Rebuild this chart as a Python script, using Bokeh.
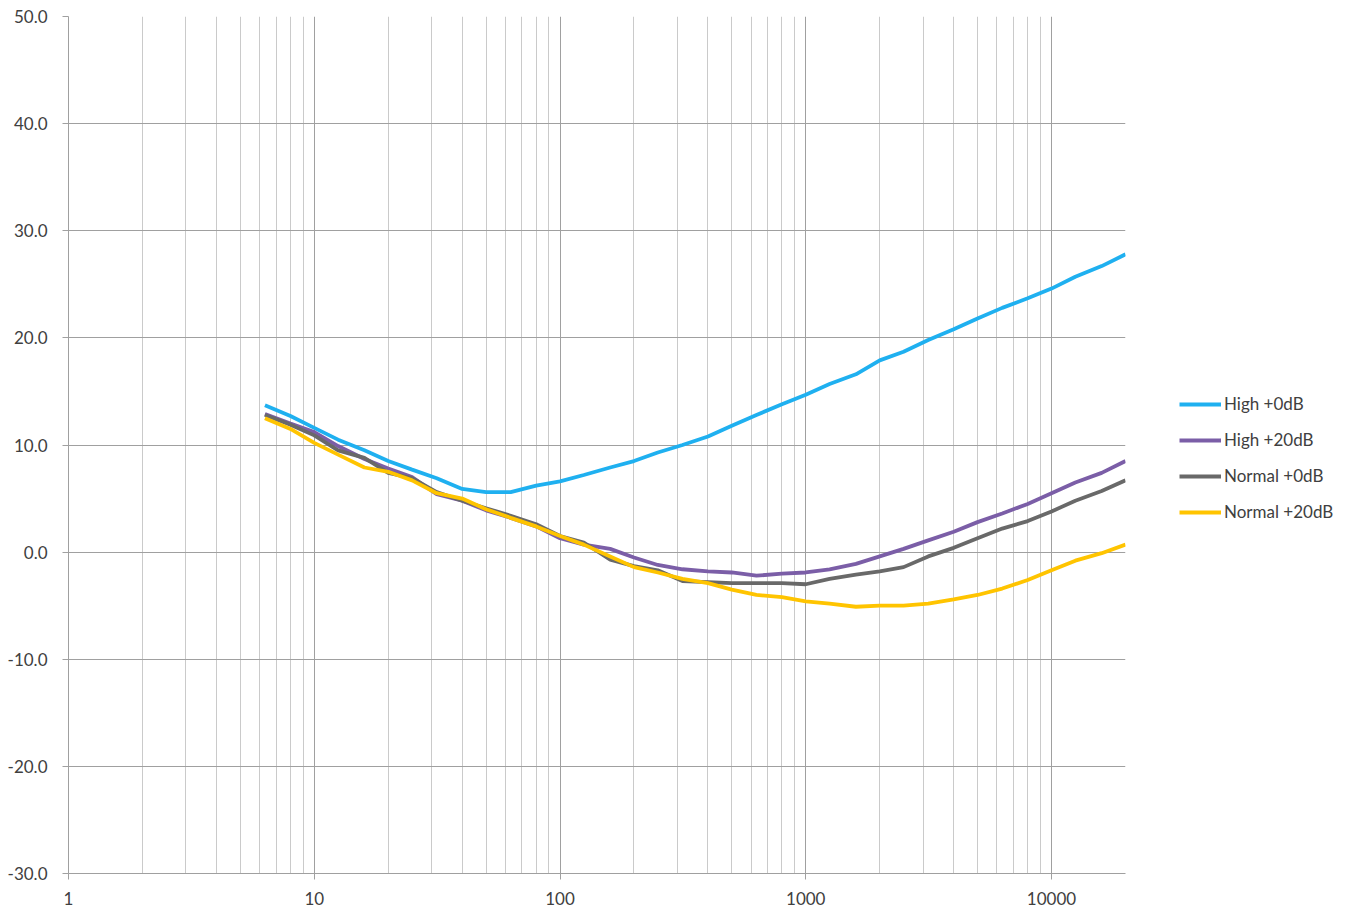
from bokeh.plotting import figure
from bokeh.models import Range1d, FixedTicker, PrintfTickFormatter, Legend, LegendItem
from bokeh.embed import file_html
from bokeh.resources import INLINE

freq = [6.3, 8, 10, 12.5, 16, 20, 25, 31.5, 40, 50, 63, 80, 100, 125, 160, 200,
        250, 315, 400, 500, 630, 800, 1000, 1250, 1600, 2000, 2500, 3150, 4000,
        5000, 6300, 8000, 10000, 12500, 16000, 20000]

high_0db = [13.7, 12.7, 11.6, 10.5, 9.5, 8.5, 7.7, 6.9, 5.9, 5.6, 5.6, 6.2, 6.6,
            7.2, 7.9, 8.5, 9.3, 10.0, 10.8, 11.8, 12.8, 13.8, 14.7, 15.7, 16.6,
            17.9, 18.7, 19.8, 20.8, 21.8, 22.8, 23.7, 24.6, 25.7, 26.7, 27.8]
high_20db = [12.9, 12.0, 11.2, 9.9, 8.7, 7.8, 7.0, 5.4, 4.8, 3.9, 3.2, 2.4, 1.3,
             0.7, 0.3, -0.5, -1.2, -1.6, -1.8, -1.9, -2.2, -2.0, -1.9, -1.6, -1.1,
             -0.4, 0.3, 1.1, 1.9, 2.8, 3.6, 4.5, 5.5, 6.5, 7.4, 8.5]
normal_0db = [12.8, 11.9, 10.9, 9.5, 8.8, 7.4, 6.9, 5.6, 4.8, 4.1, 3.4, 2.6, 1.5,
              0.9, -0.7, -1.3, -1.7, -2.7, -2.8, -2.9, -2.9, -2.9, -3.0, -2.5, -2.1,
              -1.8, -1.4, -0.4, 0.4, 1.3, 2.2, 2.9, 3.8, 4.8, 5.7, 6.7]
normal_20db = [12.5, 11.5, 10.2, 9.1, 7.9, 7.5, 6.7, 5.5, 5.0, 4.0, 3.2, 2.4, 1.5,
               0.7, -0.4, -1.4, -1.9, -2.5, -2.9, -3.5, -4.0, -4.2, -4.6, -4.8, -5.1,
               -5.0, -5.0, -4.8, -4.4, -4.0, -3.4, -2.6, -1.7, -0.8, -0.1, 0.7]

series_names = ["High +0dB", "High +20dB", "Normal +0dB", "Normal +20dB"]
series_values = [high_0db, high_20db, normal_0db, normal_20db]
series_colors = ["#1FB0F0", "#7B5EA7", "#696969", "#FFC400"]

x_major = [1, 10, 100, 1000, 10000]
x_minor = [k * 10 ** d for d in range(0, 5) for k in range(2, 10) if k * 10 ** d <= 20000]
y_ticks = [-30, -20, -10, 0, 10, 20, 30, 40, 50]

FONT = "Lato"
TEXT = "#404040"

p = figure(frame_width=1057, frame_height=857, x_axis_type="log",
           x_range=Range1d(1, 20000), y_range=Range1d(-30, 50),
           output_backend="svg", toolbar_location=None,
           min_border_left=68, min_border_right=227, min_border_top=16,
           min_border_bottom=36)
p.outline_line_color = None
p.background_fill_color = "white"
p.border_fill_color = "white"

xt = FixedTicker(ticks=x_major, minor_ticks=x_minor)
p.xaxis.ticker = xt
p.xgrid.ticker = xt
p.xaxis.formatter = PrintfTickFormatter(format="%d")
p.yaxis.ticker = FixedTicker(ticks=y_ticks)
p.ygrid.ticker = FixedTicker(ticks=y_ticks)
p.yaxis.formatter = PrintfTickFormatter(format="%.1f")

for ax in (p.xaxis, p.yaxis):
    ax.axis_line_color = "#A0A0A0"
    ax.major_tick_line_color = "#A0A0A0"
    ax.major_tick_in = 0
    ax.major_tick_out = 6
    ax.minor_tick_line_color = None
    ax.major_label_text_font = FONT
    ax.major_label_text_font_size = "17px"
    ax.major_label_text_color = TEXT
p.yaxis.major_label_standoff = 15
p.xaxis.major_label_standoff = 12

p.xgrid.grid_line_color = "#A0A0A0"
p.xgrid.minor_grid_line_color = "#CACACA"
p.ygrid.grid_line_color = "#A0A0A0"

renderers = []
for name, vals, col in zip(series_names, series_values, series_colors):
    r = p.line(freq, vals, line_color=col, line_width=3.8)
    renderers.append(r)

legend = Legend(items=[LegendItem(label=n, renderers=[r]) for n, r in zip(series_names, renderers)],
                location=(54, 351), orientation="vertical",
                glyph_width=42, glyph_height=20, label_height=20, spacing=15,
                padding=0, margin=0, label_standoff=3,
                label_text_font=FONT, label_text_font_size="17px",
                label_text_color=TEXT, border_line_color=None,
                background_fill_alpha=0)
p.add_layout(legend, "right")

open("out.html", "w").write(file_html(p, INLINE))
